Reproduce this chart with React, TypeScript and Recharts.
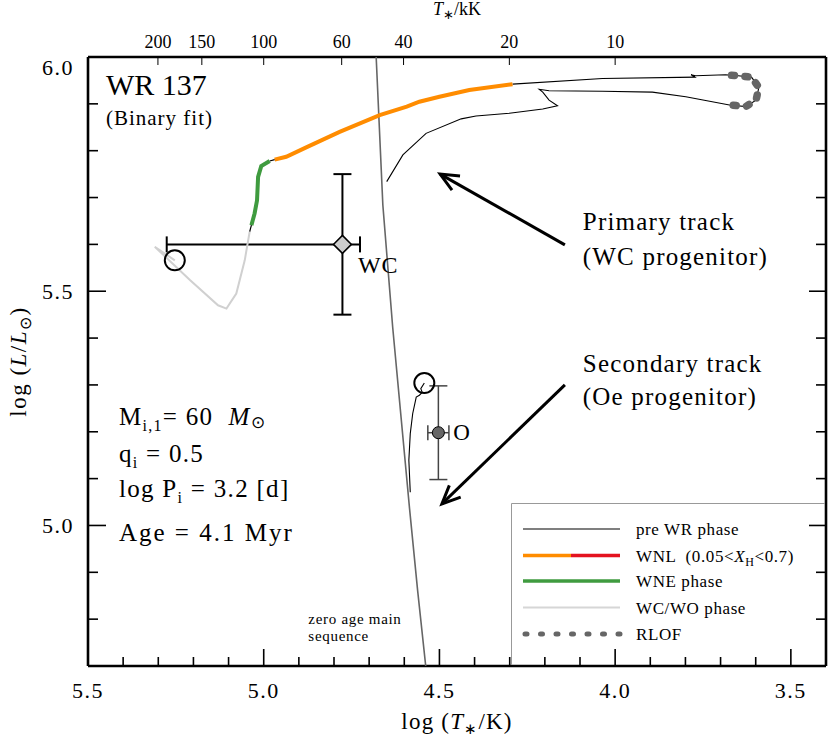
import React from "react";
import {
  ErrorBar,
  Label,
  ReferenceDot,
  ReferenceLine,
  Scatter,
  ScatterChart,
  XAxis,
  YAxis,
} from "recharts";

const SERIF = '"Liberation Serif", "Times New Roman", serif';

// tracks as [log T, log L]
// primary, pre-WR: ZAMS -> redward, RLOF loop, back blueward
const preWrTrack = [
  [4.65, 5.734], [4.604, 5.791], [4.538, 5.837], [4.438, 5.868], [4.396, 5.874],
  [4.301, 5.88], [4.206, 5.889], [4.164, 5.896], [4.188, 5.908], [4.206, 5.925],
  [4.216, 5.931], [4.188, 5.928], [4.036, 5.927], [3.894, 5.925], [3.799, 5.915],
  [3.671, 5.897], [3.664, 5.897], [3.629, 5.894], [3.599, 5.908], [3.591, 5.935],
  [3.612, 5.957], [3.65, 5.96], [3.686, 5.962], [3.771, 5.96], [3.784, 5.962],
  [3.773, 5.957], [4.036, 5.954], [4.292, 5.942],
];
const rlofTrack = [
  [3.664, 5.897], [3.629, 5.894], [3.599, 5.908], [3.591, 5.935],
  [3.612, 5.957], [3.65, 5.96], [3.686, 5.962],
];
const wnlTrack = [
  [4.292, 5.942], [4.415, 5.9295], [4.5, 5.915], [4.557, 5.9045], [4.593, 5.894],
  [4.67, 5.876], [4.784, 5.84], [4.879, 5.807], [4.936, 5.787], [4.969, 5.781],
];
const gapA = [[4.969, 5.781], [4.983, 5.778]];
const wneTrack = [
  [4.983, 5.778], [5.007, 5.767], [5.016, 5.744], [5.019, 5.694], [5.026, 5.666], [5.035, 5.641],
];
const gapB = [[5.035, 5.641], [5.04, 5.627]];
const wcTrack = [
  [5.04, 5.627], [5.054, 5.566], [5.078, 5.495], [5.106, 5.463], [5.13, 5.47],
  [5.21, 5.524], [5.31, 5.595], [5.253, 5.566],
];
const secondaryTrack = [
  [4.583, 5.071], [4.587, 5.139], [4.583, 5.196], [4.576, 5.239], [4.566, 5.274],
  [4.557, 5.278], [4.549, 5.284], [4.553, 5.292], [4.543, 5.304],
];
const zams = [
  [4.68, 6.0], [4.661, 5.684], [4.633, 5.423], [4.585, 5.036], [4.562, 4.861], [4.539, 4.7],
];
const currentPositions = [[5.253, 5.566], [4.543, 5.304]];

// observed stars
const wcObs = [{ x: 4.776, y: 5.6, ex: [0.05, 0.5], ey: 0.15 }];
const oObs = [{ x: 4.503, y: 5.198, ex: 0.03, ey: 0.1 }];

// axes
const xTicks = [5.5, 5.4, 5.3, 5.2, 5.1, 5.0, 4.9, 4.8, 4.7, 4.6, 4.5, 4.4, 4.3, 4.2, 4.1, 4.0, 3.9, 3.8, 3.7, 3.6, 3.5];
const xMajor = [5.5, 5.0, 4.5, 4.0, 3.5];
const yTicks = [4.8, 4.9, 5.0, 5.1, 5.2, 5.3, 5.4, 5.5, 5.6, 5.7, 5.8, 5.9, 6.0];
const yMajor = [5.0, 5.5, 6.0];
const teffKK = [200, 150, 100, 60, 40, 20, 10];

const pts = (a: number[][]) => a.map(([x, y]) => ({ x, y }));
const isMajor = (v: number, list: number[]) => list.some((m) => Math.abs(m - v) < 1e-6);
const none = () => <g />;

function BottomTick({ x, y, payload }: any) {
  const major = isMajor(payload.value, xMajor);
  return (
    <g>
      <line x1={x} x2={x} y1={y} y2={y - (major ? 17 : 9)} stroke="#000" strokeWidth={1.6} />
      {major && (
        <text x={x} y={y + 32} textAnchor="middle" fontFamily={SERIF} fontSize={22} letterSpacing={1.5}>
          {payload.value.toFixed(1)}
        </text>
      )}
    </g>
  );
}

function TopTick({ x, y, payload }: any) {
  const kk = Math.round(Math.pow(10, payload.value) / 1000);
  return (
    <g>
      <line x1={x} x2={x} y1={y} y2={y + 8} stroke="#000" strokeWidth={1} />
      <text x={x} y={y - 9} textAnchor="middle" fontFamily={SERIF} fontSize={18}>{kk}</text>
    </g>
  );
}

function LeftTick({ x, y, payload }: any) {
  const major = isMajor(payload.value, yMajor);
  return (
    <g>
      <line x1={x} x2={x + (major ? 18 : 10)} y1={y} y2={y} stroke="#000" strokeWidth={1.6} />
      {major && (
        <text x={x - 14} y={Math.max(y, 67)} dy="0.35em" textAnchor="end" fontFamily={SERIF} fontSize={22} letterSpacing={1.5}>
          {payload.value.toFixed(1)}
        </text>
      )}
    </g>
  );
}

function RightTick({ x, y, payload }: any) {
  const major = isMajor(payload.value, yMajor);
  return <line x1={x} x2={x - (major ? 17 : 10)} y1={y} y2={y} stroke="#000" strokeWidth={1.6} />;
}

function Arrow({ x1, y1, x2, y2 }: any) {
  const a = Math.atan2(y2 - y1, x2 - x1);
  const L = 20;
  const s = 0.42;
  const p1 = `${x2 - L * Math.cos(a - s)},${y2 - L * Math.sin(a - s)}`;
  const p2 = `${x2 - L * Math.cos(a + s)},${y2 - L * Math.sin(a + s)}`;
  return (
    <g stroke="#000" strokeWidth={3} fill="none">
      <line x1={x1} y1={y1} x2={x2} y2={y2} />
      <polyline points={`${p1} ${x2},${y2} ${p2}`} strokeLinejoin="miter" />
    </g>
  );
}

const Diamond = ({ cx, cy }: any) => (
  <polygon points={`${cx},${cy - 9} ${cx + 9},${cy} ${cx},${cy + 9} ${cx - 9},${cy}`} fill="#cccccc" stroke="#000" strokeWidth={1.5} />
);
const OpenCircle = ({ cx, cy }: any) => <circle cx={cx} cy={cy} r={10} fill="none" stroke="#000" strokeWidth={2} />;
const FilledDot = ({ cx, cy }: any) => <circle cx={cx} cy={cy} r={6} fill="#666" stroke="#000" strokeWidth={1} />;

const note = (key: string, x: number, y: number, size: number, content: React.ReactNode, ls = 0) => (
  <ReferenceDot
    key={key}
    x={x}
    y={y}
    r={0}
    ifOverflow="visible"
    shape={(p: any) => (
      <text x={p.cx} y={p.cy} fontFamily={SERIF} fontSize={size} letterSpacing={ls} style={{ whiteSpace: "pre" }}>
        {content}
      </text>
    )}
  />
);

function LegendBox() {
  const rows = [26, 52.5, 78, 104.5, 131];
  const txt = { fontFamily: SERIF, fontSize: 17, letterSpacing: 0.6 } as const;
  return (
    <svg width={314} height={162} style={{ display: "block" }}>
      <path d="M0.5 162 V0.5 H314" stroke="#999" strokeWidth={1} fill="none" />
      <line x1={12} x2={109} y1={rows[0]} y2={rows[0]} stroke="#000" strokeWidth={1.2} />
      <text x={125} y={rows[0] + 6} {...txt}>pre WR phase</text>
      <line x1={12} x2={60} y1={rows[1]} y2={rows[1]} stroke="#ff8c00" strokeWidth={3.5} />
      <line x1={60} x2={109} y1={rows[1]} y2={rows[1]} stroke="#e4131f" strokeWidth={3.5} />
      <text x={125} y={rows[1] + 6} {...txt} style={{ whiteSpace: "pre" }}>
        WNL  (0.05&lt;<tspan fontStyle="italic">X</tspan>
        <tspan fontSize={12} dy={4}>H</tspan>
        <tspan dy={-4}>&lt;0.7)</tspan>
      </text>
      <line x1={12} x2={109} y1={rows[2]} y2={rows[2]} stroke="#3f9b3f" strokeWidth={3.5} />
      <text x={125} y={rows[2] + 6} {...txt}>WNE phase</text>
      <line x1={12} x2={109} y1={rows[3]} y2={rows[3]} stroke="#d6d6d6" strokeWidth={2} />
      <text x={125} y={rows[3] + 6} {...txt}>WC/WO phase</text>
      <line x1={14} x2={110} y1={rows[4]} y2={rows[4]} stroke="#666" strokeWidth={5} strokeDasharray="2 13.5" strokeLinecap="round" />
      <text x={125} y={rows[4] + 6} {...txt}>RLOF</text>
    </svg>
  );
}

export default function App() {
  return (
    <div style={{ position: "absolute", left: 0, top: 0, width: 830, height: 740, background: "#fff" }}>
      <ScatterChart width={830} height={740} margin={{ top: 56, right: 3, bottom: 73, left: 87 }}>
        <XAxis
          dataKey="x"
          type="number"
          domain={[3.4, 5.5]}
          reversed
          allowDataOverflow
          ticks={xTicks}
          interval={0}
          height={1}
          tickSize={0}
          tickMargin={0}
          tickLine={false}
          tick={<BottomTick />}
          axisLine={{ stroke: "#000", strokeWidth: 2.6 }}
        >
          <Label
            content={({ viewBox }: any) => (
              <text x={viewBox.x + viewBox.width / 2} y={viewBox.y + 63} textAnchor="middle" fontFamily={SERIF} fontSize={23} letterSpacing={1.2}>
                log (<tspan fontStyle="italic">T</tspan>
                <tspan fontSize={15} dy={5}>∗</tspan>
                <tspan dy={-5}>/K)</tspan>
              </text>
            )}
          />
        </XAxis>
        <XAxis
          xAxisId="top"
          dataKey="x"
          orientation="top"
          type="number"
          domain={[3.4, 5.5]}
          reversed
          allowDataOverflow
          ticks={teffKK.map((t) => Math.log10(t * 1000))}
          interval={0}
          height={1}
          tickSize={0}
          tickMargin={0}
          tickLine={false}
          tick={<TopTick />}
          axisLine={{ stroke: "#000", strokeWidth: 2.6 }}
        >
          <Label
            content={({ viewBox }: any) => (
              <text x={viewBox.x + viewBox.width / 2} y={viewBox.y - 41} textAnchor="middle" fontFamily={SERIF} fontSize={18}>
                <tspan fontStyle="italic">T</tspan>
                <tspan fontSize={13} dy={4}>∗</tspan>
                <tspan dy={-4}>/kK</tspan>
              </text>
            )}
          />
        </XAxis>
        <YAxis
          dataKey="y"
          type="number"
          domain={[4.7, 6.0]}
          allowDataOverflow
          ticks={yTicks}
          interval={0}
          width={1}
          tickSize={0}
          tickMargin={0}
          tickLine={false}
          tick={<LeftTick />}
          axisLine={{ stroke: "#000", strokeWidth: 2.6 }}
        >
          <Label
            content={({ viewBox }: any) => {
              const cy = viewBox.y + viewBox.height / 2;
              return (
                <text x={26} y={cy} transform={`rotate(-90 26 ${cy})`} textAnchor="middle" fontFamily={SERIF} fontSize={23} letterSpacing={1.5}>
                  log (<tspan fontStyle="italic">L</tspan>/<tspan fontStyle="italic">L</tspan>
                  <tspan fontSize={16} dy={5}>⊙</tspan>
                  <tspan dy={-5}>)</tspan>
                </text>
              );
            }}
          />
        </YAxis>
        <YAxis
          yAxisId="right"
          dataKey="y"
          orientation="right"
          type="number"
          domain={[4.7, 6.0]}
          allowDataOverflow
          ticks={yTicks}
          interval={0}
          width={1}
          tickSize={0}
          tickMargin={0}
          tickLine={false}
          tick={<RightTick />}
          axisLine={{ stroke: "#000", strokeWidth: 2.6 }}
        />

        {/* invisible series so the secondary axes get a scale */}
        <Scatter xAxisId="top" yAxisId="right" data={pts(zams)} shape={none} isAnimationActive={false} />

        <Scatter data={pts(zams)} line={{ stroke: "#666", strokeWidth: 1.6 }} shape={none} isAnimationActive={false} />
        <Scatter data={pts(preWrTrack)} line={{ stroke: "#000", strokeWidth: 1.1 }} shape={none} isAnimationActive={false} />
        <Scatter data={pts(rlofTrack)} line={{ stroke: "#666", strokeWidth: 7.5, strokeDasharray: "3 10.5", strokeLinecap: "round" }} shape={none} isAnimationActive={false} />
        <Scatter data={pts(wnlTrack)} line={{ stroke: "#ff8c00", strokeWidth: 4 }} shape={none} isAnimationActive={false} />
        <Scatter data={pts(gapA)} line={{ stroke: "#000", strokeWidth: 1.2 }} shape={none} isAnimationActive={false} />
        <Scatter data={pts(wneTrack)} line={{ stroke: "#3f9b3f", strokeWidth: 4 }} shape={none} isAnimationActive={false} />
        <Scatter data={pts(gapB)} line={{ stroke: "#000", strokeWidth: 1.2 }} shape={none} isAnimationActive={false} />
        <Scatter data={pts(wcTrack)} line={{ stroke: "#d0d0d0", strokeWidth: 2 }} shape={none} isAnimationActive={false} />
        <Scatter data={pts(secondaryTrack)} line={{ stroke: "#000", strokeWidth: 1.1 }} shape={none} isAnimationActive={false} />
        <Scatter data={pts(currentPositions)} shape={OpenCircle} isAnimationActive={false} />

        <Scatter data={wcObs} shape={Diamond} isAnimationActive={false}>
          <ErrorBar dataKey="ex" direction="x" width={8} stroke="#000" strokeWidth={2} />
          <ErrorBar dataKey="ey" direction="y" width={9} stroke="#000" strokeWidth={2} />
        </Scatter>
        <Scatter data={oObs} shape={FilledDot} isAnimationActive={false}>
          <ErrorBar dataKey="ex" direction="x" width={7.5} stroke="#444" strokeWidth={1.5} />
          <ErrorBar dataKey="ey" direction="y" width={9} stroke="#444" strokeWidth={1.5} />
        </Scatter>

        <ReferenceLine segment={[{ x: 4.143, y: 5.599 }, { x: 4.498, y: 5.75 }]} shape={Arrow} />
        <ReferenceLine segment={[{ x: 4.143, y: 5.3 }, { x: 4.493, y: 5.046 }]} shape={Arrow} />

        {note("wr", 5.449, 5.919, 30, "WR 137")}
        {note("bf", 5.449, 5.855, 21, "(Binary fit)", 1)}
        {note("wc", 4.732, 5.539, 24, "WC", 1)}
        {note("o", 4.461, 5.1825, 23, "O")}
        {note("p1", 4.092, 5.631, 25, "Primary track", 1.2)}
        {note("p2", 4.092, 5.556, 25, "(WC progenitor)", 1.2)}
        {note("s1", 4.092, 5.328, 25, "Secondary track", 1.2)}
        {note("s2", 4.092, 5.257, 25, "(Oe progenitor)", 1.2)}
        {note("z1", 4.873, 4.789, 15, "zero age main", 0.7)}
        {note("z2", 4.873, 4.753, 15, "sequence", 0.7)}
        {note(
          "m",
          5.412,
          5.215,
          25,
          <>
            M<tspan fontSize={16} dy={6}>i,1</tspan>
            <tspan dy={-6}>= 60  </tspan>
            <tspan fontStyle="italic">M</tspan>
            <tspan fontSize={17} dy={3}>⊙</tspan>
          </>,
          1.3
        )}
        {note(
          "q",
          5.412,
          5.136,
          25,
          <>
            q<tspan fontSize={16} dy={6}>i</tspan>
            <tspan dy={-6}> = 0.5</tspan>
          </>,
          1.3
        )}
        {note(
          "lp",
          5.412,
          5.06,
          25,
          <>
            log P<tspan fontSize={16} dy={6}>i</tspan>
            <tspan dy={-6}> = 3.2 [d]</tspan>
          </>,
          1.3
        )}
        {note("age", 5.412, 4.967, 25, "Age = 4.1 Myr", 2)}
      </ScatterChart>
      <div style={{ position: "absolute", left: 511, top: 503 }}>
        <LegendBox />
      </div>
    </div>
  );
}
